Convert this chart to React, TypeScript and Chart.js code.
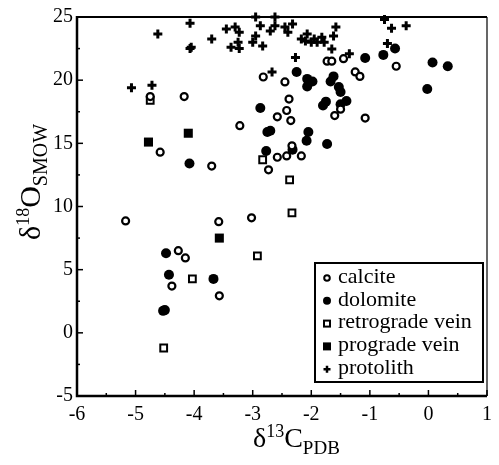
import React, { useEffect, useRef } from "react";
import { Chart, registerables } from "chart.js";
Chart.register(...registerables);

const xTicks = [-6, -5, -4, -3, -2, -1, 0, 1];
const yTicks = [-5, 0, 5, 10, 15, 20, 25];

const calcite: number[][] = [
  [-2.82, 20.25], [-2.45, 19.86], [-4.17, 18.7], [-2.58, 17.1], [-3.22, 16.4], [-4.58, 14.3],
  [-3.7, 13.2], [-2.58, 13.9], [-2.73, 12.9], [-5.17, 8.86], [-3.58, 8.8], [-3.02, 9.1],
  [-4.27, 6.5], [-4.15, 5.93], [-4.38, 3.7], [-3.57, 2.93], [-0.55, 21.1], [-1.73, 21.5],
  [-1.65, 21.5], [-1.45, 21.7], [-1.25, 20.65], [-1.17, 20.3], [-2.38, 18.5], [-2.42, 17.6],
  [-2.35, 16.8], [-1.5, 17.7], [-1.6, 17.2], [-1.08, 17.0], [-2.33, 14.8], [-2.42, 14.0],
  [-2.17, 14.0], [-4.75, 18.7],
];
const dolomite: number[][] = [
  [-2.87, 17.8], [-2.75, 15.9], [-2.7, 16.0], [-4.08, 13.4], [-2.77, 14.4], [-4.48, 6.3],
  [-4.43, 4.6], [-3.67, 4.27], [-4.53, 1.74], [-4.5, 1.8], [-0.57, 22.5], [-0.77, 22.0],
  [0.07, 21.4], [0.33, 21.1], [-0.02, 19.3], [-1.08, 21.75], [-2.25, 20.65], [-2.07, 20.1],
  [-1.98, 19.9], [-2.07, 19.5], [-1.62, 20.3], [-1.67, 19.9], [-1.53, 19.46], [-1.5, 19.07],
  [-1.75, 18.3], [-1.8, 18.0], [-1.5, 18.1], [-1.4, 18.35], [-2.05, 15.9], [-2.08, 15.2],
  [-1.73, 14.95], [-2.32, 14.5],
];
const retrograde: number[][] = [
  [-4.75, 18.4], [-2.83, 13.7], [-2.92, 6.1], [-4.03, 4.27], [-4.52, -1.2], [-2.37, 12.1], [-2.33, 9.5],
];
const prograde: number[][] = [
  [-4.1, 15.8], [-4.78, 15.1], [-3.57, 7.5],
];
const protolith: number[][] = [
  [-4.07, 24.5], [-4.62, 23.66], [-4.07, 22.5], [-4.05, 22.6], [-3.7, 23.26], [-3.45, 24.05],
  [-3.3, 24.2], [-3.23, 23.8], [-3.37, 22.6], [-3.25, 23.0], [-3.23, 22.5], [-3.0, 23.0],
  [-2.95, 23.5], [-2.87, 24.3], [-2.83, 22.7], [-2.7, 23.9], [-2.62, 24.3], [-2.95, 25],
  [-2.62, 25], [-2.67, 20.65], [-5.07, 19.4], [-4.72, 19.6], [-2.45, 24.2], [-2.32, 24.45],
  [-2.4, 23.8], [-2.17, 23.26], [-2.07, 23.65], [-1.95, 23.26], [-1.82, 23.4], [-2.0, 23.0],
  [-1.78, 23.0], [-1.58, 24.2], [-1.62, 23.5], [-1.65, 22.47], [-0.75, 24.8], [-0.63, 24.1],
  [-0.38, 24.3], [-0.7, 22.9], [-2.27, 21.8], [-1.35, 22.1], [-2.1, 23.1], [-1.9, 23.0],
];

const legendLabels = ["calcite", "dolomite", "retrograde vein", "prograde vein", "protolith"];
const FONT = "'Liberation Serif', 'Times New Roman', serif";

const toPts = (a: number[][]) => a.map(([x, y]) => ({ x, y }));

function drawMarker(ctx: CanvasRenderingContext2D, kind: number, x: number, y: number) {
  ctx.save();
  ctx.strokeStyle = "#000";
  ctx.fillStyle = "#000";
  if (kind === 0) {
    ctx.lineWidth = 2;
    ctx.fillStyle = "#fff";
    ctx.beginPath();
    ctx.arc(x, y, 2.8, 0, Math.PI * 2);
    ctx.fill();
    ctx.stroke();
  } else if (kind === 1) {
    ctx.beginPath();
    ctx.arc(x, y, 4, 0, Math.PI * 2);
    ctx.fill();
  } else if (kind === 2) {
    ctx.lineWidth = 2;
    ctx.fillStyle = "#fff";
    ctx.fillRect(x - 3, y - 3, 6, 6);
    ctx.strokeRect(x - 3, y - 3, 6, 6);
  } else if (kind === 3) {
    ctx.fillRect(x - 4, y - 4, 8, 8);
  } else {
    ctx.lineWidth = 2.5;
    ctx.beginPath();
    ctx.moveTo(x - 3.5, y);
    ctx.lineTo(x + 3.5, y);
    ctx.moveTo(x, y - 3.5);
    ctx.lineTo(x, y + 3.5);
    ctx.stroke();
  }
  ctx.restore();
}

const framePlugin = {
  id: "frame",
  afterDraw(chart: any) {
    const ctx: CanvasRenderingContext2D = chart.ctx;
    const { left, right, top, bottom } = chart.chartArea;
    const xs = chart.scales.x;
    const ys = chart.scales.y;
    ctx.save();
    ctx.strokeStyle = "#000";
    ctx.lineWidth = 1.2;
    ctx.beginPath();
    ctx.moveTo(right, top);
    ctx.lineTo(right, bottom);
    ctx.stroke();
    ctx.lineWidth = 2;
    ctx.beginPath();
    ctx.moveTo(left, top);
    ctx.lineTo(right, top);
    ctx.stroke();
    ctx.lineWidth = 2.5;
    ctx.beginPath();
    ctx.moveTo(left, top - 1);
    ctx.lineTo(left, bottom);
    ctx.lineTo(right, bottom);
    ctx.stroke();
    ctx.lineWidth = 1.5;
    for (let v = xs.min; v <= xs.max + 1e-9; v += 0.5) {
      const px = xs.getPixelForValue(v);
      const len = Math.abs(v - Math.round(v)) < 1e-6 ? 6 : 3;
      ctx.beginPath();
      ctx.moveTo(px, bottom);
      ctx.lineTo(px, bottom - len);
      ctx.stroke();
    }
    for (let v = ys.min; v <= ys.max + 1e-9; v += 2.5) {
      const py = ys.getPixelForValue(v);
      const len = Math.abs(v / 5 - Math.round(v / 5)) < 1e-6 ? 6 : 3;
      ctx.beginPath();
      ctx.moveTo(left, py);
      ctx.lineTo(left + len, py);
      ctx.stroke();
    }
    // legend
    const bx = right - 172, by = bottom - 133, bw = 168, bh = 119;
    ctx.fillStyle = "#fff";
    ctx.fillRect(bx, by, bw, bh);
    ctx.lineWidth = 2;
    ctx.strokeRect(bx, by, bw, bh);
    ctx.fillStyle = "#000";
    ctx.font = `22px ${FONT}`;
    ctx.textBaseline = "middle";
    ctx.textAlign = "left";
    legendLabels.forEach((lab, i) => {
      const cy = by + 14 + i * 22.8;
      drawMarker(ctx, i, bx + 12, cy + 1);
      ctx.fillText(lab, bx + 23, cy);
    });
    // x title
    ctx.textBaseline = "alphabetic";
    let tx = 253;
    const tyb = 447;
    ctx.font = `28px ${FONT}`;
    ctx.fillText("δ", tx, tyb);
    tx += ctx.measureText("δ").width;
    ctx.font = `18px ${FONT}`;
    ctx.fillText("13", tx, tyb - 10);
    tx += ctx.measureText("13").width;
    ctx.font = `28px ${FONT}`;
    ctx.fillText("C", tx, tyb);
    tx += ctx.measureText("C").width;
    ctx.font = `19px ${FONT}`;
    ctx.fillText("PDB", tx, tyb + 7);
    // y title
    ctx.save();
    ctx.translate(40, 240);
    ctx.rotate(-Math.PI / 2);
    let ux = 0;
    ctx.font = `30px ${FONT}`;
    ctx.fillText("δ", ux, 0);
    ux += ctx.measureText("δ").width;
    ctx.font = `18px ${FONT}`;
    ctx.fillText("18", ux, -11);
    ux += ctx.measureText("18").width;
    ctx.font = `30px ${FONT}`;
    ctx.fillText("O", ux, 0);
    ux += ctx.measureText("O").width;
    ctx.font = `20px ${FONT}`;
    ctx.fillText("SMOW", ux, 7);
    ctx.restore();
    ctx.restore();
  },
};

export default function App() {
  const ref = useRef<HTMLCanvasElement>(null);
  useEffect(() => {
    document.body.style.margin = "0";
    const chart = new Chart(ref.current as HTMLCanvasElement, {
      type: "scatter",
      data: {
        datasets: [
          {
            label: "calcite",
            data: toPts(calcite),
            pointStyle: "circle",
            pointRadius: 3.5,
            borderWidth: 2.2,
            borderColor: "#000",
            backgroundColor: "#fff",
            clip: false,
          },
          {
            label: "dolomite",
            data: toPts(dolomite),
            pointStyle: "circle",
            pointRadius: 5,
            borderWidth: 0,
            borderColor: "#000",
            backgroundColor: "#000",
            clip: false,
          },
          {
            label: "retrograde vein",
            data: toPts(retrograde),
            pointStyle: "rect",
            pointRadius: 4.8,
            borderWidth: 2,
            borderColor: "#000",
            backgroundColor: "#fff",
            clip: false,
          },
          {
            label: "prograde vein",
            data: toPts(prograde),
            pointStyle: "rect",
            pointRadius: 6.4,
            borderWidth: 0,
            borderColor: "#000",
            backgroundColor: "#000",
            clip: false,
          },
          {
            label: "protolith",
            data: toPts(protolith),
            pointStyle: "cross",
            pointRadius: 4.5,
            borderWidth: 3,
            borderColor: "#000",
            backgroundColor: "#000",
            clip: false,
          },
        ] as any,
      },
      options: {
        animation: false,
        responsive: true,
        maintainAspectRatio: false,
        layout: { padding: { left: 0, top: 17, right: 2, bottom: 0 } },
        plugins: { legend: { display: false }, tooltip: { enabled: false } },
        scales: {
          x: {
            type: "linear",
            min: -6,
            max: 1,
            afterBuildTicks: (s: any) => { s.ticks = xTicks.map((v) => ({ value: v })); },
            afterFit: (s: any) => { s.height = 69; },
            grid: { display: false, drawTicks: false },
            border: { display: false },
            ticks: { color: "#000", padding: 7, font: { family: FONT, size: 20 } },
          },
          y: {
            type: "linear",
            min: -5,
            max: 25,
            afterBuildTicks: (s: any) => { s.ticks = yTicks.map((v) => ({ value: v })); },
            afterFit: (s: any) => { s.width = 77; },
            grid: { display: false, drawTicks: false },
            border: { display: false },
            ticks: { color: "#000", padding: 4, font: { family: FONT, size: 20 } },
          },
        },
      },
      plugins: [framePlugin],
    });
    return () => chart.destroy();
  }, []);
  return (
    <div style={{ position: "fixed", left: 0, top: 0, width: 499, height: 465, background: "#fff" }}>
      <canvas ref={ref} />
    </div>
  );
}
